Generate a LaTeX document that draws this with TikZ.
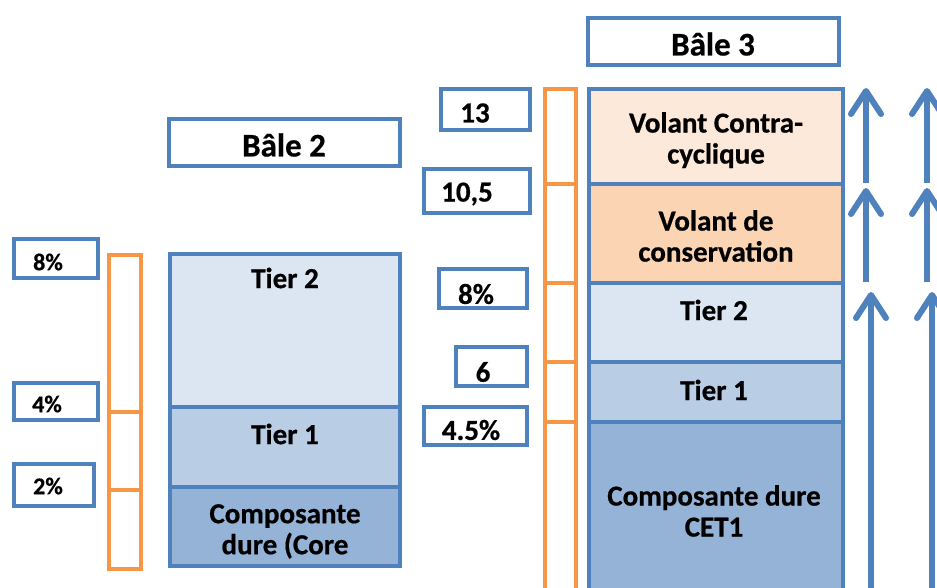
\documentclass[tikz,border=0pt]{standalone}
\usepackage{fontspec}
\setmainfont{Carlito}[BoldFeatures={FakeBold=0.6}]
\definecolor{bblue}{HTML}{4F81BD}
\definecolor{fTtwo}{HTML}{DCE6F2}
\definecolor{fTone}{HTML}{B9CDE5}
\definecolor{fcore}{HTML}{95B3D7}
\definecolor{fvcc}{HTML}{FDE9D9}
\definecolor{fvcons}{HTML}{FBD4B4}
\definecolor{orng}{HTML}{F79646}
\begin{document}
\begin{tikzpicture}[x=1pt,y=-1pt,
  cell/.style={draw=bblue,line width=4pt,inner sep=0pt,outer sep=0pt},
  obar/.style={draw=orng,line width=3.5pt},
  bigtxt/.style={font=\fontsize{29}{31}\selectfont\bfseries,align=center,inner sep=0pt},
  ttl/.style={font=\fontsize{33}{35}\selectfont\bfseries,inner sep=0pt},
  numtxt/.style={font=\fontsize{29}{31}\selectfont\bfseries,inner sep=0pt},
  smtxt/.style={font=\fontsize{24}{26}\selectfont\bfseries,inner sep=0pt},
  uparrow/.style={draw=bblue,line width=6pt,line cap=butt},
  chev/.style={draw=bblue,line width=6pt,line cap=round,line join=round}]
\useasboundingbox (0,0) rectangle (937,587);
\clip (0,0) rectangle (937,587);
% ---- Bale 2 ----
\path[cell] (169,119) rectangle (400,166);
\node[ttl] (t2) at (284,145) {Bâle 2};
\path[cell,fill=fTtwo] (170,254) rectangle (400,407);
\path[cell,fill=fTone] (170,407) rectangle (400,487);
\path[cell,fill=fcore] (170,487) rectangle (400,566);
\node[bigtxt] (l2t2) at (285,278) {Tier 2};
\node[bigtxt] (l2t1) at (285,434) {Tier 1};
\node[bigtxt,anchor=north] (l2c) at (285,504) {Composante\\dure (Core};
% orange left
\draw[obar] (109,255) rectangle (141,569);
\draw[obar] (109,412) -- (141,412);
\draw[obar] (109,490) -- (141,490);
% left labels
\path[cell] (14,239) rectangle (98,278);
\node[smtxt] (p8) at (48,262) {8\%};
\path[cell] (14,383) rectangle (98,420);
\node[smtxt] (p4) at (47,404) {4\%};
\path[cell] (14,464) rectangle (94,506);
\node[smtxt] (p2) at (48,486) {2\%};
% ---- Bale 3 ----
\path[cell] (588,18) rectangle (839,65);
\node[ttl] (t3) at (713,44) {Bâle 3};
\path[cell,fill=fvcc] (589,89) rectangle (843,184);
\path[cell,fill=fvcons] (589,184) rectangle (843,283);
\path[cell,fill=fTtwo] (589,283) rectangle (843,362);
\path[cell,fill=fTone] (589,362) rectangle (843,422);
\path[cell,fill=fcore] (589,422) rectangle (843,620);
\node[bigtxt,anchor=north] (r3a) at (716,112) {Volant Contra-\\cyclique};
\node[bigtxt,anchor=north] (r3b) at (716,210) {Volant de\\conservation};
\node[bigtxt] (r3c) at (714,310) {Tier 2};
\node[bigtxt] (r3d) at (714,390) {Tier 1};
\node[bigtxt,anchor=north] (r3e) at (714,485) {Composante dure\\CET1};
% orange right
\draw[obar] (545,89) rectangle (576,620);
\foreach \yy in {184,283,362,422} \draw[obar] (545,\yy) -- (576,\yy);
% right labels
\path[cell] (441,89) rectangle (530,130);
\node[numtxt] (n13) at (475,113) {13};
\path[cell] (424,169) rectangle (530,213);
\node[numtxt] (n105) at (467,194) {10,5};
\path[cell] (439,269) rectangle (527,308);
\node[numtxt] (n8) at (476,294) {8\%};
\path[cell] (456,347) rectangle (527,386);
\node[numtxt] (n6) at (483,372) {6};
\path[cell] (424,407) rectangle (527,445);
\node[numtxt] (n45) at (471,430) {4.5\%};
% arrows
\foreach \xx/\ya/\yb in {866/183/91, 927/183/91, 866/282/191, 927/282/191, 871/600/295, 932/600/295}{
  \draw[uparrow] (\xx,\ya) -- (\xx,\yb);
  \draw[chev] (\xx-15,\yb+23) -- (\xx,\yb) -- (\xx+15,\yb+23);
}
\end{tikzpicture}
\end{document}
